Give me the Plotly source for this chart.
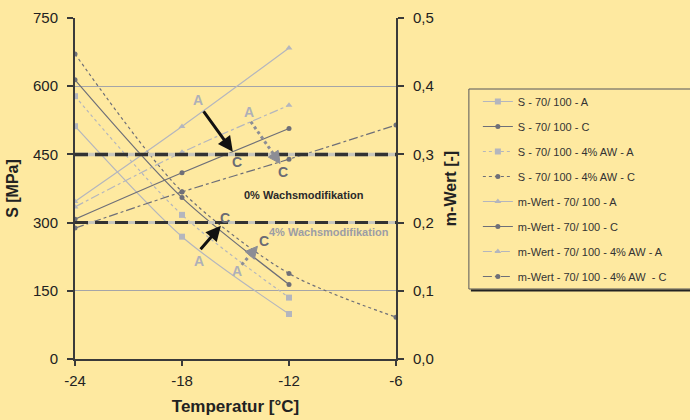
import math
import plotly.graph_objects as go

# ---------------- data ----------------
temps = [-24, -18, -12]
temps_ext = [-24, -18, -12, -6]

S_A = [512, 269, 99]
S_C = [614, 355, 164]
S_AW_A = [578, 317, 135]
S_AW_C = [671, 368, 188, 92]

m_A = [0.231, 0.341, 0.456]
m_C = [0.205, 0.273, 0.338]
m_AW_A = [0.223, 0.303, 0.372]
m_AW_C = [0.192, 0.245, 0.293, 0.343]

names = [
    "S - 70/ 100 - A",
    "S - 70/ 100 - C",
    "S - 70/ 100 - 4% AW - A",
    "S - 70/ 100 - 4% AW - C",
    "m-Wert - 70/ 100 - A",
    "m-Wert - 70/ 100 - C",
    "m-Wert - 70/ 100 - 4% AW - A",
    "m-Wert - 70/ 100 - 4% AW  - C",
]

x_ticks = [-24, -18, -12, -6]
s_ticks = [0, 150, 300, 450, 600, 750]
m_ticks = [0.0, 0.1, 0.2, 0.3, 0.4, 0.5]

BG = "#FEE9A0"
LIGHT = "#B4B6BE"
DARK = "#6E6F78"
FONT = "Liberation Sans, Arial, sans-serif"

# plot geometry (pixels)
L_PX, R_PX, T_PX, B_PX = 74.5, 396, 18, 359
X_RANGE = (-24, -6)
Y_RANGE = (0, 750)
PX_PER_X = (R_PX - L_PX) / (X_RANGE[1] - X_RANGE[0])
PX_PER_Y = (B_PX - T_PX) / (Y_RANGE[1] - Y_RANGE[0])

fig = go.Figure()

series = [
    (temps, S_A, names[0], LIGHT, "solid", "square", "y"),
    (temps, S_C, names[1], DARK, "solid", "circle", "y"),
    (temps, S_AW_A, names[2], LIGHT, "dot", "square", "y"),
    (temps_ext, S_AW_C, names[3], DARK, "dot", "circle", "y"),
    (temps, m_A, names[4], LIGHT, "solid", "triangle-up", "y2"),
    (temps, m_C, names[5], DARK, "solid", "circle", "y2"),
    (temps, m_AW_A, names[6], LIGHT, "dashdot", "triangle-up", "y2"),
    (temps_ext, m_AW_C, names[7], DARK, "dashdot", "circle", "y2"),
]

for i, (xs, ys, nm, col, dash, sym, ax) in enumerate(series):
    fig.add_trace(go.Scatter(
        x=xs, y=ys, name=nm, yaxis=ax, mode="lines+markers",
        line=dict(color=col, width=1.2, dash=dash, shape="spline", smoothing=0.8),
        marker=dict(symbol=sym, size=6 if sym != "circle" else 5, color=col),
        legendgroup=f"g{i}",
    ))

# ---------------- threshold dashed lines ----------------
shapes = []
for yv, w in [(450, 3.5), (300, 3)]:
    shapes.append(dict(type="line", xref="x", yref="y", x0=-24, x1=-6, y0=yv, y1=yv,
                       line=dict(color="#C9C7BC", width=w)))
    shapes.append(dict(type="line", xref="x", yref="y", x0=-24, x1=-6, y0=yv, y1=yv,
                       line=dict(color="#333333", width=w, dash="13px,7px")))

# gray dotted arrows (shaft + filled triangular head)
GRAY_ARR = "#8C8D95"
gray_arrows = [((-14.14, 522), (-12.5, 430)), ((-14.65, 207), (-13.77, 248))]
HEAD_L, HEAD_W = 12.0, 6.0
for (tx, ty), (hx, hy) in gray_arrows:
    dx = (hx - tx) * PX_PER_X
    dy = (hy - ty) * PX_PER_Y
    n = math.hypot(dx, dy)
    ux, uy = dx / n, dy / n
    bx = hx - HEAD_L * ux / PX_PER_X
    by = hy - HEAD_L * uy / PX_PER_Y
    p1 = (bx + HEAD_W * (-uy) / PX_PER_X, by + HEAD_W * ux / PX_PER_Y)
    p2 = (bx - HEAD_W * (-uy) / PX_PER_X, by - HEAD_W * ux / PX_PER_Y)
    shapes.append(dict(type="line", xref="x", yref="y", x0=tx, y0=ty, x1=bx, y1=by,
                       line=dict(color=GRAY_ARR, width=3, dash="dot")))
    shapes.append(dict(type="path", xref="x", yref="y",
                       path=f"M{hx},{hy} L{p1[0]},{p1[1]} L{p2[0]},{p2[1]} Z",
                       fillcolor=GRAY_ARR, line=dict(color=GRAY_ARR, width=1)))

# legend box (extends past right edge)
def px2paper_x(px):
    return (px - L_PX) / (R_PX - L_PX)

def px2paper_y(py):
    return (B_PX - py) / (B_PX - T_PX)

shapes.append(dict(type="rect", xref="paper", yref="paper",
                   x0=px2paper_x(469), x1=px2paper_x(705),
                   y0=px2paper_y(289), y1=px2paper_y(89),
                   line=dict(color="#55555A", width=1), layer="below"))
shapes.append(dict(type="line", xref="paper", yref="paper",
                   x0=px2paper_x(471), x1=px2paper_x(705),
                   y0=px2paper_y(290.5), y1=px2paper_y(290.5),
                   line=dict(color="#222222", width=2)))

annotations = []
# black arrows
for (tx, ty), (hx, hy) in [((-16.85, 548), (-15.15, 456)), ((-17.03, 238), (-15.82, 293))]:
    annotations.append(dict(x=hx, y=hy, ax=tx, ay=ty, xref="x", yref="y", axref="x", ayref="y",
                            showarrow=True, arrowhead=2, arrowwidth=3, arrowsize=1,
                            arrowcolor="#111111", text=""))

# A / C labels
for (x, y) in [(-17.09, 570), (-14.22, 544), (-17.07, 215), (-14.89, 194)]:
    annotations.append(dict(x=x, y=y, xref="x", yref="y", text="<b>A</b>", showarrow=False,
                            font=dict(size=14, color="#AEB0B8", family=FONT)))
for (x, y) in [(-14.93, 433), (-12.31, 411), (-15.58, 311), (-13.43, 259)]:
    annotations.append(dict(x=x, y=y, xref="x", yref="y", text="<b>C</b>", showarrow=False,
                            font=dict(size=14, color="#6A6B74", family=FONT)))

annotations.append(dict(x=-11.16, y=361, xref="x", yref="y", text="<b>0% Wachsmodifikation</b>",
                        showarrow=False, font=dict(size=11, color="#2A2A2A", family=FONT)))
annotations.append(dict(x=-9.76, y=279, xref="x", yref="y", text="<b>4% Wachsmodifikation</b>",
                        showarrow=False, font=dict(size=11, color="#9C9DA5", family=FONT)))

AX = "#3A3A3A"
fig.update_layout(
    width=690, height=420,
    margin=dict(l=L_PX, r=690 - R_PX, t=T_PX, b=420 - B_PX, autoexpand=False),
    paper_bgcolor=BG, plot_bgcolor=BG,
    separators=", ",
    font=dict(family=FONT, color="#222222"),
    showlegend=True,
    legend=dict(x=px2paper_x(478), y=px2paper_y(87), xanchor="left", yanchor="top",
                bgcolor="rgba(0,0,0,0)", borderwidth=0, tracegroupgap=6,
                font=dict(size=11, color="#333333", family=FONT)),
    shapes=shapes,
    annotations=annotations,
    xaxis=dict(range=list(X_RANGE), tickvals=x_ticks, ticktext=[str(v) for v in x_ticks],
               showgrid=False, zeroline=False, showline=True, linecolor=AX, linewidth=2,
               ticks="outside", ticklen=5, tickwidth=1.5, tickcolor=AX, automargin=False,
               tickfont=dict(size=15, color="#222222"), ticklabelstandoff=2,
               title=dict(text="<b>Temperatur [°C]</b>", font=dict(size=17, color="#222222"),
                          standoff=12)),
    yaxis=dict(range=list(Y_RANGE), tickvals=s_ticks, showgrid=True, gridcolor="#A5A5A8", gridwidth=1,
               zeroline=False, showline=True, linecolor=AX, linewidth=2, automargin=False,
               ticks="outside", ticklen=6, tickwidth=1.5, tickcolor=AX,
               tickfont=dict(size=15, color="#222222"), ticklabelstandoff=6,
               title=dict(text="<b>S [MPa]</b>", font=dict(size=16, color="#222222"), standoff=10)),
    yaxis2=dict(range=[0, 0.5], tickvals=m_ticks, tickformat=".1f", overlaying="y", side="right",
                showgrid=False, zeroline=False, showline=True, linecolor=AX, linewidth=2,
                ticks="outside", ticklen=6, tickwidth=1.5, tickcolor=AX, automargin=False,
                tickfont=dict(size=15, color="#222222"), ticklabelstandoff=6,
                title=dict(text="<b>m-Wert [-]</b>", font=dict(size=16, color="#222222"), standoff=12)),
)

fig.write_html("out.html")
